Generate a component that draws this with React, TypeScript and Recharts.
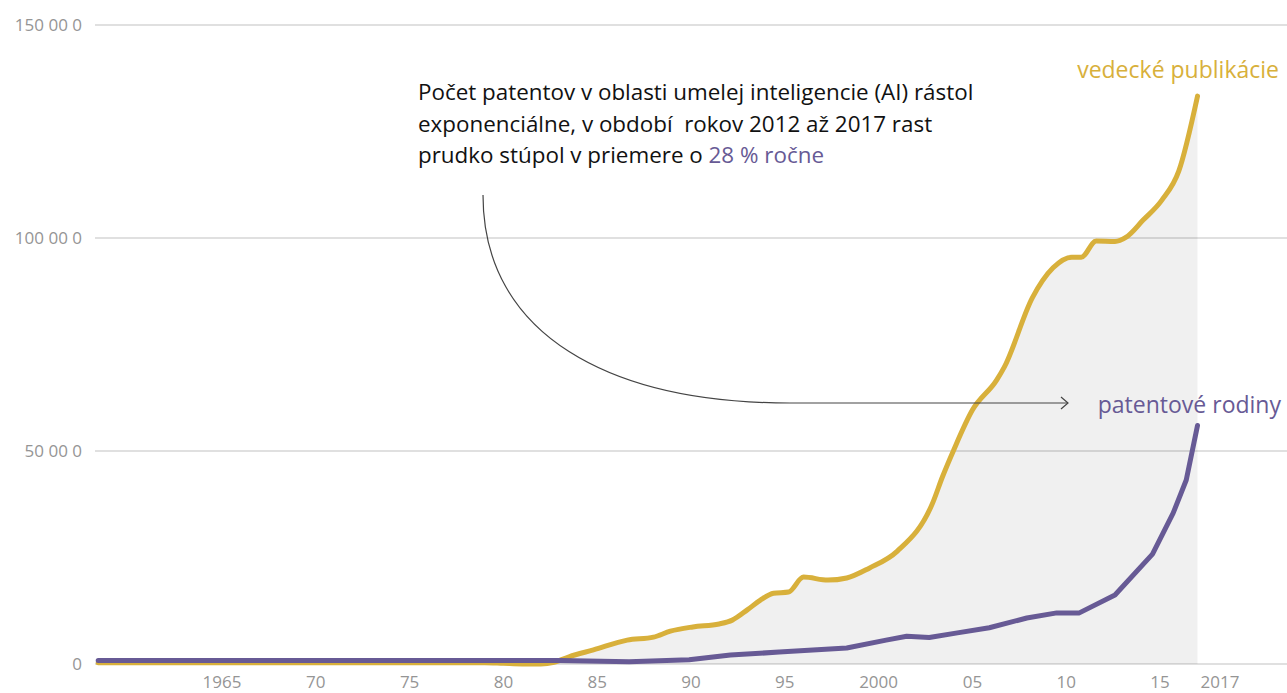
import React from 'react';
import { Area, CartesianGrid, ComposedChart, Line, XAxis, YAxis } from 'recharts';

// vedecké publikácie
const publicationYears = [
  1958.4, 1979, 1980, 1981, 1982, 1982.7, 1983.5, 1984.8, 1986.6, 1988, 1988.9, 1990.1, 1991.5,
  1992.2, 1993, 1993.7, 1994.4, 1995.2, 1996, 1997.3, 1998.3, 1999.5, 2001, 2002.9,
  2003.4, 2004, 2005, 2006.3, 2006.7, 2008.2, 2009.3, 2010.3, 2010.8, 2011.6, 2012.6, 2013.2,
  2014.1, 2015.1, 2016, 2017,
];
const publicationCounts = [
  300, 300, 150, 0, 0, 400, 1700, 3300, 5600, 6300, 7700, 8700, 9400,
  10300, 12700, 15000, 16600, 16900, 20400, 19700, 20200, 22500, 26500, 38000,
  43900, 50200, 59600, 66700, 69700, 86000, 93000, 95500, 95500, 99300, 99200, 100200,
  104200, 108900, 115700, 133300,
];

// patentové rodiny
const patentYears = [
  1958.4, 1983, 1986.7, 1989.9, 1992.1, 1994.7, 1998.3, 2000.4, 2001.5, 2002.7, 2004.2,
  2005.9, 2007.9, 2009.5, 2010.7, 2012.6, 2014.6, 2015.7, 2016.4, 2017,
];
const patentCounts = [
  800, 800, 500, 1000, 2100, 2800, 3750, 5600, 6500, 6200, 7300,
  8500, 10800, 12000, 12000, 16200, 25800, 35400, 43200, 56000,
];

const xTicks = [1965, 1970, 1975, 1980, 1985, 1990, 1995, 2000, 2005, 2010, 2015, 2017];
const xTickLabels = ['1965', '70', '75', '80', '85', '90', '95', '2000', '05', '10', '15', '2017'];
const yTicks = [0, 50000, 100000, 150000];
const yTickLabels = ['0', '50 00 0', '100 00 0', '150 00 0'];

const publications = publicationYears.map((year, i) => ({ year, value: publicationCounts[i] }));
const patents = patentYears.map((year, i) => ({ year, value: patentCounts[i] }));

const GOLD = '#d8b03b';
const PURPLE = '#675a95';
const TICK_GREY = '#959595';
const FONT = '"Open Sans", sans-serif';

const YearTick = (props: any) => {
  const { x, y, payload } = props;
  const i = xTicks.indexOf(payload.value);
  const last = payload.value === 2017;
  return (
    <text
      x={last ? x + 3 : x}
      y={y + 16}
      textAnchor={last ? 'start' : 'middle'}
      fill={TICK_GREY}
      fontSize={17}
      fontFamily={FONT}
    >
      {xTickLabels[i]}
    </text>
  );
};

export default function App() {
  return (
    <div style={{ position: 'relative', width: 1287, height: 693, background: '#fff' }}>
      <style>{'body{margin:0}'}</style>
      <ComposedChart width={1287} height={693} margin={{ top: 25, right: 0, bottom: 0, left: 0 }}>
        <CartesianGrid vertical={false} stroke="#d6d6d6" strokeWidth={1.5} />
        <XAxis
          type="number"
          dataKey="year"
          domain={[1958.23, 2021.77]}
          allowDataOverflow
          ticks={xTicks}
          interval={0}
          height={29}
          axisLine={false}
          tickLine={false}
          tick={<YearTick />}
        />
        <YAxis
          type="number"
          domain={[0, 150000]}
          ticks={yTicks}
          width={95}
          axisLine={false}
          tickLine={false}
          tickSize={6}
          tickMargin={7}
          tickFormatter={(v: number) => yTickLabels[yTicks.indexOf(v)]}
          tick={{ fill: TICK_GREY, fontSize: 17, fontFamily: FONT }}
        />
        <Area
          data={publications}
          dataKey="value"
          type="monotone"
          stroke="none"
          fill="#000"
          fillOpacity={0.06}
          isAnimationActive={false}
        />
        <Line
          data={publications}
          dataKey="value"
          type="monotone"
          stroke={GOLD}
          strokeWidth={5}
          strokeLinecap="round"
          strokeLinejoin="round"
          dot={false}
          activeDot={false}
          isAnimationActive={false}
        />
        <Line
          data={patents}
          dataKey="value"
          type="linear"
          stroke={PURPLE}
          strokeWidth={5}
          strokeLinecap="round"
          strokeLinejoin="round"
          dot={false}
          activeDot={false}
          isAnimationActive={false}
        />
      </ComposedChart>
      <svg
        width={1287}
        height={693}
        style={{ position: 'absolute', left: 0, top: 0, pointerEvents: 'none' }}
      >
        <g fontFamily={FONT} fontSize={22.4} fill="#111">
          <text x={418} y={100}>Počet patentov v oblasti umelej inteligencie (AI) rástol</text>
          <text x={418} y={131.5}>{'exponenciálne, v období\u00a0 rokov 2012 až 2017 rast'}</text>
          <text x={418} y={163}>
            prudko stúpol v priemere o <tspan fill={PURPLE}>28 % ročne</tspan>
          </text>
        </g>
        <path
          d="M483,195 C483,335 610,403 790,403 L1068,403"
          fill="none"
          stroke="#444"
          strokeWidth={1.2}
        />
        <path d="M1061,397 L1068,403 L1061,409" fill="none" stroke="#444" strokeWidth={1.2} />
        <text x={1279} y={78} textAnchor="end" fill={GOLD} fontSize={23} fontFamily={FONT}>
          vedecké publikácie
        </text>
        <text x={1281} y={413} textAnchor="end" fill={PURPLE} fontSize={23} fontFamily={FONT}>
          patentové rodiny
        </text>
      </svg>
    </div>
  );
}
